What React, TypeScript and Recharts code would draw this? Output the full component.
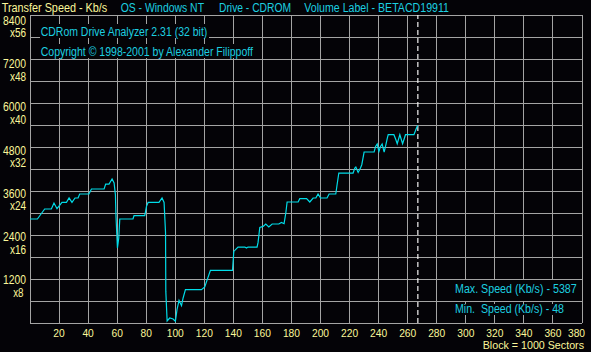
import { CartesianGrid, Line, LineChart, ReferenceLine, XAxis, YAxis } from "recharts";

// transfer speed
const blocks = [
  0, 5.1, 10.1, 14.7, 16.5, 18.6, 22.0, 25.1, 26.9, 28.9,
  31.0, 33.1, 34.2, 40.6, 42.3, 51.0, 52.1, 54.4, 56.5, 57.9,
  58.8, 59.2, 60.2, 61.1, 61.8, 70.9, 71.6, 79.0, 80.2, 81.3,
  88.8, 90.9, 92.3, 93.3, 93.5, 94.4, 96.2, 98.5, 100.1, 101.2,
  102.6, 104.3, 105.4, 107.0, 118.0, 120.3, 124.2, 139.4, 140.3, 143.2,
  147.9, 149.0, 150.1, 156.3, 157.0, 158.2, 160.5, 162.3, 164.4, 166.7,
  171.3, 173.1, 174.9, 176.1, 177.0, 184.6, 185.7, 190.4, 192.6, 194.9,
  196.8, 198.3, 200.0, 204.5, 205.9, 210.5, 211.4, 212.6, 222.4, 223.6,
  224.3, 225.9, 227.5, 228.4, 230.0, 236.9, 237.9, 239.0, 240.2, 241.3,
  242.4, 243.8, 245.0, 245.9, 246.6, 250.5, 251.7, 252.8, 254.6, 256.5,
  258.5, 264.3, 265.6, 266.8,
];

const speeds = [
  2836, 2836, 3109, 3109, 3272, 3117, 3289, 3289, 3409, 3289,
  3409, 3409, 3518, 3518, 3654, 3654, 3790, 3790, 3927, 3818,
  3499, 2907, 2045, 2318, 2836, 2836, 2926, 2926, 3180, 3289,
  3289, 3409, 3289, 2471, 862, 55, 136, 109, 48, 363,
  616, 472, 682, 908, 908, 982, 1434, 1434, 1953, 2072,
  2072, 2045, 2072, 2072, 2198, 2607, 2634, 2700, 2618, 2700,
  2700, 2743, 2708, 3000, 3300, 3300, 3390, 3390, 3300, 3409,
  3409, 3518, 3409, 3409, 3518, 3518, 3771, 4090, 4090, 4227,
  4254, 4107, 4227, 4317, 4663, 4663, 4816, 4881, 4680, 4816,
  4881, 4663, 4862, 5026, 5135, 5135, 5018, 4890, 5135, 4890,
  5135, 5135, 5271, 5387,
];

const xTicks = [0, 20, 40, 60, 80, 100, 120, 140, 160, 180, 200, 220, 240, 260, 280, 300, 320, 340, 360, 380];
const yTicks = [0, 600, 1200, 1800, 2400, 3000, 3600, 4200, 4800, 5400, 6000, 6600, 7200, 7800, 8400];
const speedLabels = [1200, 2400, 3600, 4800, 6000, 7200, 8400];
const multLabels = ["x8", "x16", "x24", "x32", "x40", "x48", "x56"];
const markerBlock = 267;

const data = blocks.map((b, i) => ({ block: b, speed: speeds[i] }));

const BG = "#040307";
const YELLOW = "#fbf79a";
const CYAN = "#1ccfe0";
const FONT = "'Liberation Sans', Arial, sans-serif";

function SpeedTick({ y, payload }: any) {
  const idx = speedLabels.indexOf(payload?.value);
  if (idx < 0) return <g />;
  // the old program spaces its labels a touch tighter than the grid
  const yc = y + 1 + idx * 0.78;
  const num = String(speedLabels[idx]);
  const mult = multLabels[idx];
  return (
    <g fontFamily={FONT} fontSize={12} fill={YELLOW}>
      <text x={26} y={yc + 4.3} textAnchor="end" textLength={num.length * 5.75} lengthAdjust="spacingAndGlyphs">
        {num}
      </text>
      <text
        x={mult === "x8" ? 23.5 : 26}
        y={yc + 16.8}
        textAnchor="end"
        textLength={4.6 + (mult.length - 1) * 5.75}
        lengthAdjust="spacingAndGlyphs"
      >
        {mult}
      </text>
    </g>
  );
}

function BlockTick({ x, payload }: any) {
  const v = payload?.value;
  if (!v) return <g />;
  const s = String(v);
  const cx = v === 380 ? x - 5.5 : x;
  return (
    <text
      x={cx}
      y={337.2}
      textAnchor="middle"
      fontFamily={FONT}
      fontSize={11}
      fill={YELLOW}
      textLength={s.length * 5.7}
      lengthAdjust="spacingAndGlyphs"
    >
      {s}
    </text>
  );
}

function Label({
  x,
  y,
  w,
  color,
  size = 12,
  children,
}: {
  x: number;
  y: number;
  w: number;
  color: string;
  size?: number;
  children: string;
}) {
  return (
    <text
      x={x}
      y={y}
      fill={color}
      fontFamily={FONT}
      fontSize={size}
      textLength={w}
      lengthAdjust="spacingAndGlyphs"
      style={{ whiteSpace: "pre" }}
    >
      {children}
    </text>
  );
}

export default function App() {
  return (
    <div style={{ position: "fixed", left: 0, top: 0, width: 591, height: 352, background: BG }}>
      <style>{`.recharts-cartesian-grid line { shape-rendering: crispEdges; }`}</style>
      <LineChart width={591} height={352} data={data} margin={{ top: 15, right: 9, bottom: 0, left: 0 }}>
        <CartesianGrid stroke="#a4a4a4" strokeWidth={1} fill="none" />
        <XAxis
          dataKey="block"
          type="number"
          domain={[0, 380]}
          ticks={xTicks}
          height={29}
          axisLine={false}
          tickLine={false}
          tick={<BlockTick />}
          interval={0}
        />
        <YAxis
          type="number"
          domain={[0, 8400]}
          ticks={yTicks}
          width={30}
          axisLine={false}
          tickLine={false}
          tick={<SpeedTick />}
          interval={0}
        />
        <ReferenceLine x={markerBlock} stroke="#f4f4f4" strokeWidth={1.2} strokeDasharray="5 3" />
        <Line
          type="linear"
          dataKey="speed"
          stroke="#00dce8"
          strokeWidth={1.2}
          dot={false}
          isAnimationActive={false}
        />
      </LineChart>
      <svg width={591} height={352} style={{ position: "absolute", left: 0, top: 0, pointerEvents: "none" }}>
        <Label x={1.7} y={12} w={105.6} color={YELLOW}>Transfer Speed - Kb/s</Label>
        <Label x={120.7} y={12} w={83.3} color={CYAN}>OS - Windows NT</Label>
        <Label x={219} y={12} w={72} color={CYAN}>Drive - CDROM</Label>
        <Label x={304.3} y={12} w={144.7} color={CYAN}>Volume Label - BETACD19911</Label>

        <rect x={40} y={24} width={169} height={14} fill={BG} />
        <rect x={40} y={44} width={215} height={14} fill={BG} />
        <Label x={40.7} y={35.7} w={166.6} color={CYAN}>CDRom Drive Analyzer 2.31 (32 bit)</Label>
        <Label x={40.7} y={55.7} w={212.3} color={CYAN}>Copyright © 1998-2001 by Alexander Filippoff</Label>

        <rect x={453} y={280} width={125} height={21} fill={BG} />
        <rect x={453} y={304} width={125} height={11} fill={BG} />
        <Label x={455} y={293} w={121.7} color={CYAN}>Max. Speed (Kb/s) - 5387</Label>
        <Label x={455} y={312.7} w={109} color={CYAN}>Min.  Speed (Kb/s) - 48</Label>

        <Label x={482.7} y={349.4} w={101.3} size={11} color={YELLOW}>Block = 1000 Sectors</Label>
      </svg>
    </div>
  );
}
